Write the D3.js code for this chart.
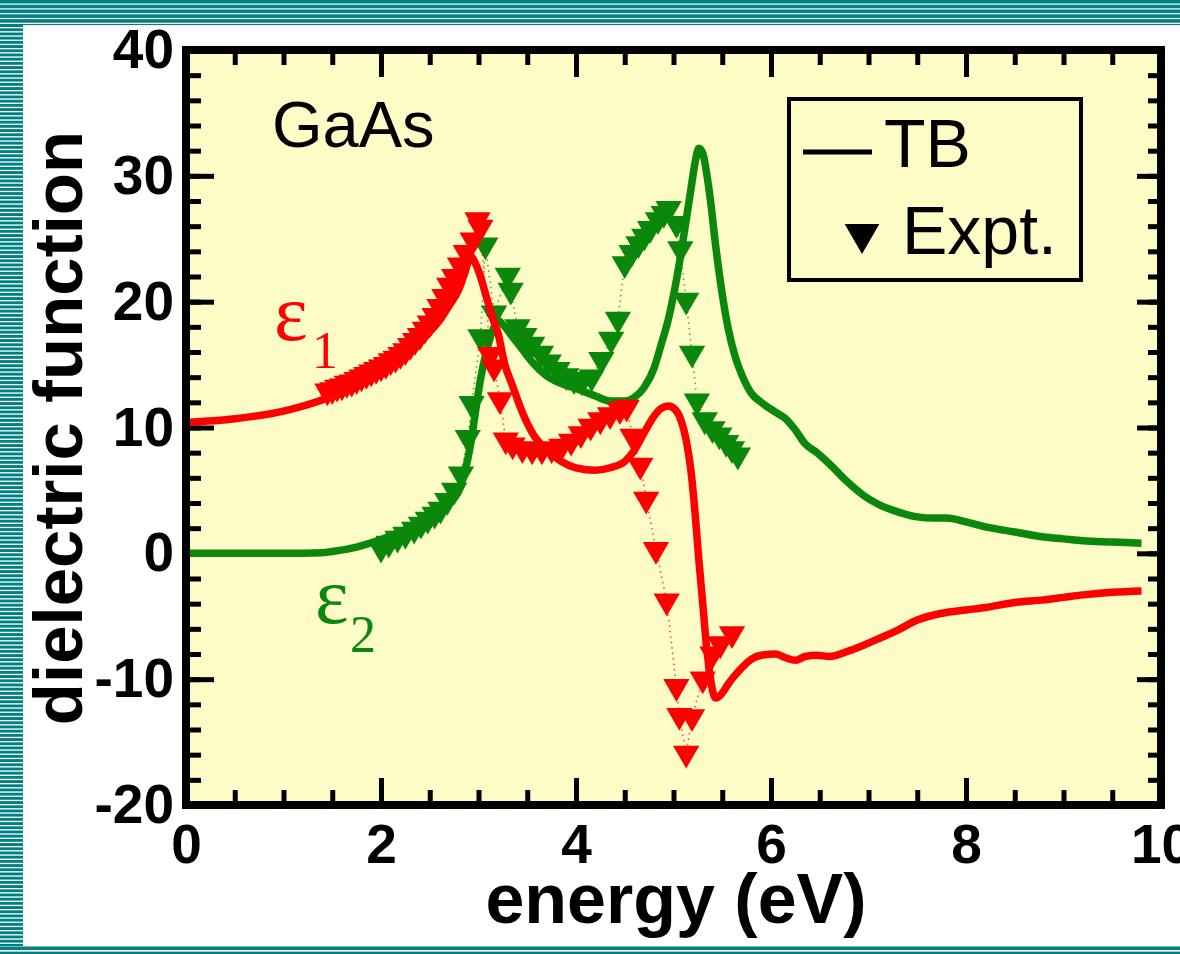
<!DOCTYPE html>
<html>
<head>
<meta charset="utf-8">
<script src="https://cdn.jsdelivr.net/npm/d3@7"></script>
<style>
  html, body { margin: 0; padding: 0; background: #fff; }
  svg { display: block; }
</style>
</head>
<body>
<svg id="chart" width="1180" height="954"></svg>
<script>

/************/
/*** DATA ***/
/************/

// tight-binding curves
var tb_energy = [0.0, 0.5, 1.0, 1.4, 1.5, 1.75, 2.0, 2.2, 2.35, 2.5, 2.6, 2.7, 2.8, 2.86, 2.92, 2.97,
                 3.02, 3.08, 3.15, 3.2, 3.27, 3.35, 3.45, 3.55, 3.7, 3.85, 4.0, 4.2, 4.35, 4.5, 4.6, 4.7,
                 4.8, 4.87, 4.95, 5.02, 5.08, 5.13, 5.18, 5.22, 5.26, 5.3, 5.34, 5.38, 5.43, 5.49, 5.56, 5.63,
                 5.7, 5.8, 5.9, 6.05, 6.15, 6.25, 6.35, 6.47, 6.6, 6.78, 6.95, 7.1, 7.3, 7.5, 7.67, 7.8,
                 8.0, 8.2, 8.5, 8.8, 9.0, 9.2, 9.5, 9.8];
var tb_eps1 = [10.4, 10.7, 11.3, 12.2, 12.5, 13.4, 14.5, 15.5, 16.4, 17.6, 18.5, 19.7, 21.0, 22.3, 23.6, 23.0,
               22.0, 20.4, 18.6, 17.5, 15.0, 13.3, 11.2, 9.6, 8.2, 7.3, 6.8, 6.6, 6.8, 7.3, 8.2, 9.6,
               10.9, 11.5, 11.7, 11.4, 10.5, 9.0, 6.5, 3.3, -0.5, -4.0, -7.5, -10.0, -11.5, -11.2, -10.4, -9.7,
               -9.1, -8.4, -8.1, -8.0, -8.3, -8.5, -8.2, -8.1, -8.2, -7.8, -7.3, -6.8, -6.1, -5.3, -4.9, -4.7,
               -4.5, -4.3, -3.9, -3.7, -3.5, -3.3, -3.1, -3.0];
var tb_eps2 = [0, 0, 0, 0.05, 0.15, 0.5, 1.1, 1.7, 2.3, 3.0, 3.5, 4.1, 5.0, 6.5, 8.7, 11.3,
               13.8, 16.0, 17.8, 18.5, 18.0, 17.2, 16.2, 15.2, 14.1, 13.5, 13.1, 12.5, 12.1, 12.1, 12.4, 13.2,
               14.7, 16.5, 18.7, 21.3, 24.0, 26.5, 29.0, 31.0, 32.2, 31.8, 30.2, 28.0, 24.6, 21.1, 17.9, 15.7,
               14.2, 12.7, 12.0, 11.2, 10.7, 9.8, 8.7, 8.0, 7.1, 5.7, 4.6, 3.9, 3.3, 2.9, 2.8, 2.8,
               2.5, 2.1, 1.7, 1.3, 1.15, 1.0, 0.9, 0.8];

// experimental points
var expt1_energy = [1.45, 1.5, 1.55, 1.6, 1.65, 1.7, 1.75, 1.8, 1.85, 1.9, 1.95, 2.0, 2.05, 2.1, 2.15, 2.2,
                    2.25, 2.3, 2.35, 2.4, 2.45, 2.5, 2.55, 2.6, 2.65, 2.7, 2.75, 2.81, 2.87, 2.94, 2.99, 3.02,
                    3.12, 3.16, 3.22, 3.28, 3.35, 3.45, 3.55, 3.65, 3.75, 3.85, 3.95, 4.05, 4.15, 4.25, 4.35, 4.45,
                    4.52, 4.58, 4.66, 4.72, 4.82, 4.93, 5.03, 5.06, 5.13, 5.19, 5.3, 5.4, 5.48, 5.6];
var expt1_eps = [12.9, 13.0, 13.2, 13.3, 13.5, 13.6, 13.8, 14.0, 14.2, 14.4, 14.6, 14.8, 15.0, 15.3, 15.5, 15.8,
                 16.1, 16.5, 16.9, 17.3, 17.8, 18.3, 18.9, 19.6, 20.4, 21.3, 22.0, 22.9, 23.9, 24.9, 26.5, 25.9,
                 15.8, 14.8, 12.2, 9.0, 8.6, 8.3, 8.2, 8.2, 8.3, 8.5, 8.9, 9.5, 10.1, 10.6, 11.0, 11.4,
                 11.6, 9.3, 7.0, 4.3, 0.3, -3.8, -10.6, -12.9, -15.9, -13.0, -10.0, -8.0, -7.2, -6.4];

var expt2_energy = [2.0, 2.08, 2.17, 2.25, 2.34, 2.41, 2.48, 2.55, 2.61, 2.68, 2.75, 2.82, 2.89, 2.93, 3.02, 3.07,
                    3.16, 3.3, 3.33, 3.4, 3.47, 3.55, 3.64, 3.72, 3.81, 3.9, 3.98, 4.06, 4.16, 4.26, 4.36, 4.43,
                    4.5, 4.57, 4.64, 4.7, 4.76, 4.84, 4.9, 4.95, 5.03, 5.07, 5.13, 5.19, 5.24, 5.32, 5.4, 5.47,
                    5.54, 5.6, 5.66];
var expt2_eps = [0.4, 0.8, 1.2, 1.5, 1.9, 2.3, 2.7, 3.1, 3.5, 4.2, 5.0, 6.3, 9.2, 11.9, 17.2, 24.5,
                 19.1, 22.1, 20.9, 18.0, 17.3, 16.6, 15.9, 15.2, 14.6, 14.1, 13.8, 13.7, 14.0, 15.4, 17.0, 18.6,
                 23.0, 23.9, 24.6, 25.2, 25.8, 26.5, 27.0, 27.4, 26.2, 24.2, 20.1, 15.9, 12.1, 10.6, 9.9, 9.4,
                 8.8, 8.3, 7.8];

var x_ticks = [0, 2, 4, 6, 8, 10];
var y_ticks = [-20, -10, 0, 10, 20, 30, 40];

/*****************/
/*** DRAW PLOT ***/
/*****************/

var svg = d3.select('#chart');
var W = 1180, H = 954;
var plot = {left: 186, right: 1161, top: 50, bottom: 805};

var red = '#ff0000',
    green = '#0b870b',
    teal = '#008080',
    paper = '#fdfbc6';

var sans = '"Liberation Sans", Arial, sans-serif',
    serif = '"Liberation Serif", "Times New Roman", serif';

var x = d3.scaleLinear().domain([0, 10]).range([plot.left, plot.right]);
var y = d3.scaleLinear().domain([-20, 40]).range([plot.bottom, plot.top]);

// striped page border (top, left, bottom)
svg.append('rect').attr('x', 0).attr('y', 0).attr('width', W).attr('height', 25).attr('fill', teal);
svg.selectAll('.top-stripe').data(d3.range(3.5, 24, 4.8)).enter().append('rect')
    .attr('x', 0).attr('y', d => d).attr('width', W).attr('height', 1.2).attr('fill', '#fff');
svg.append('rect').attr('x', 0).attr('y', 25).attr('width', 23).attr('height', 921).attr('fill', teal);
svg.selectAll('.left-stripe').data(d3.range(27, 945, 4.2)).enter().append('rect')
    .attr('x', 0).attr('y', d => d).attr('width', 23).attr('height', 1.3).attr('fill', '#fff');
svg.append('rect').attr('x', 0).attr('y', 946.5).attr('width', W).attr('height', 7.5).attr('fill', teal);
svg.append('rect').attr('x', 0).attr('y', 950).attr('width', W).attr('height', 1.6).attr('fill', '#fff');

// plot background
svg.append('rect')
    .attr('x', plot.left).attr('y', plot.top)
    .attr('width', plot.right - plot.left).attr('height', plot.bottom - plot.top)
    .attr('fill', paper);

// ticks on all four sides, pointing inward
var x_minor = d3.range(0, 10.01, 0.5),
    y_minor = d3.range(-20, 40.01, 2);

function style_axis(g) {
    g.select('.domain').remove();
    g.selectAll('line').attr('stroke', '#000').attr('stroke-width', 5);
    g.selectAll('text')
        .attr('fill', '#000')
        .attr('font-family', sans)
        .attr('font-weight', 'bold')
        .attr('font-size', 55);
}

svg.append('g').attr('transform', `translate(0, ${plot.bottom})`)
    .call(d3.axisBottom(x).tickValues(x_minor).tickSize(-15).tickFormat(''))
    .call(style_axis);
svg.append('g').attr('transform', `translate(0, ${plot.bottom})`)
    .call(d3.axisBottom(x).tickValues(x_ticks).tickSize(-27).tickPadding(19).tickFormat(d => String(d)))
    .call(style_axis);
svg.append('g').attr('transform', `translate(0, ${plot.top})`)
    .call(d3.axisTop(x).tickValues(x_minor).tickSize(-15).tickFormat(''))
    .call(style_axis);
svg.append('g').attr('transform', `translate(0, ${plot.top})`)
    .call(d3.axisTop(x).tickValues(x_ticks).tickSize(-27).tickFormat(''))
    .call(style_axis);

svg.append('g').attr('transform', `translate(${plot.left}, 0)`)
    .call(d3.axisLeft(y).tickValues(y_minor).tickSize(-15).tickFormat(''))
    .call(style_axis);
svg.append('g').attr('transform', `translate(${plot.left}, 0)`)
    .call(d3.axisLeft(y).tickValues(y_ticks).tickSize(-28).tickPadding(12).tickFormat(d => String(d)))
    .call(style_axis);
svg.append('g').attr('transform', `translate(${plot.right}, 0)`)
    .call(d3.axisRight(y).tickValues(y_minor).tickSize(-13).tickFormat(''))
    .call(style_axis);
svg.append('g').attr('transform', `translate(${plot.right}, 0)`)
    .call(d3.axisRight(y).tickValues(y_ticks).tickSize(-24).tickFormat(''))
    .call(style_axis);

// data
var tb_line = d3.line().x(d => x(d[0])).y(d => y(d[1])).curve(d3.curveMonotoneX);
var dot_line = d3.line().x(d => x(d[0])).y(d => y(d[1]));
var tri = d3.symbol().type(d3.symbolTriangle).size(300);

function draw_expt(points, color) {
    svg.append('path')
        .attr('d', dot_line(points))
        .attr('fill', 'none')
        .attr('stroke', color)
        .attr('stroke-opacity', 0.7)
        .attr('stroke-width', 1.6)
        .attr('stroke-dasharray', '1.5,4');
    svg.append('g').selectAll('path').data(points).enter().append('path')
        .attr('d', tri)
        .attr('transform', d => `translate(${x(d[0])}, ${y(d[1])}) rotate(180)`)
        .attr('fill', color);
}

function draw_tb(points, color) {
    svg.append('path')
        .attr('d', tb_line(points))
        .attr('fill', 'none')
        .attr('stroke', color)
        .attr('stroke-width', 7.5)
        .attr('stroke-linejoin', 'round');
}

draw_tb(d3.zip(tb_energy, tb_eps2), green);
draw_expt(d3.zip(expt2_energy, expt2_eps), green);
draw_tb(d3.zip(tb_energy, tb_eps1), red);
draw_expt(d3.zip(expt1_energy, expt1_eps), red);

// frame
svg.append('rect')
    .attr('x', plot.left).attr('y', plot.top)
    .attr('width', plot.right - plot.left).attr('height', plot.bottom - plot.top)
    .attr('fill', 'none')
    .attr('stroke', '#000')
    .attr('stroke-width', 8);

// axis titles
svg.append('text')
    .attr('x', 676).attr('y', 923)
    .attr('text-anchor', 'middle')
    .attr('font-family', sans).attr('font-weight', 'bold').attr('font-size', 70)
    .text('energy (eV)');

svg.append('text')
    .attr('transform', 'translate(82, 428) rotate(-90)')
    .attr('text-anchor', 'middle')
    .attr('font-family', sans).attr('font-weight', 'bold').attr('font-size', 69)
    .text('dielectric function');

// annotations
svg.append('text')
    .attr('x', 272).attr('y', 147)
    .attr('font-family', sans).attr('font-size', 65)
    .text('GaAs');

svg.append('text').attr('x', 274).attr('y', 340)
    .attr('font-family', serif).attr('font-size', 80).attr('fill', red).text('ε');
svg.append('text').attr('x', 312).attr('y', 368)
    .attr('font-family', serif).attr('font-size', 52).attr('fill', red).text('1');

svg.append('text').attr('x', 315).attr('y', 623)
    .attr('font-family', serif).attr('font-size', 80).attr('fill', green).text('ε');
svg.append('text').attr('x', 350).attr('y', 652)
    .attr('font-family', serif).attr('font-size', 52).attr('fill', green).text('2');

// legend
var legend = svg.append('g');
legend.append('rect')
    .attr('x', 789).attr('y', 99).attr('width', 292).attr('height', 181)
    .attr('fill', 'none').attr('stroke', '#000').attr('stroke-width', 4);
legend.append('line')
    .attr('x1', 803).attr('x2', 872).attr('y1', 152).attr('y2', 152)
    .attr('stroke', '#000').attr('stroke-width', 5);
legend.append('text')
    .attr('x', 884).attr('y', 167)
    .attr('font-family', sans).attr('font-size', 68)
    .text('TB');
legend.append('path')
    .attr('d', d3.symbol().type(d3.symbolTriangle).size(520)())
    .attr('transform', 'translate(862, 234) rotate(180)')
    .attr('fill', '#000');
legend.append('text')
    .attr('x', 902).attr('y', 254)
    .attr('font-family', sans).attr('font-size', 68)
    .text('Expt.');

</script>
</body>
</html>
